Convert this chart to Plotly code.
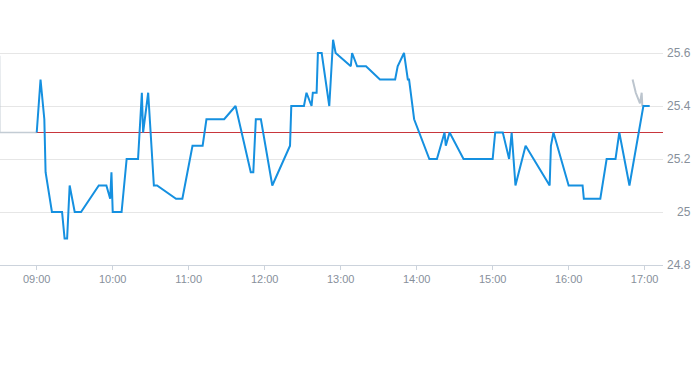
import plotly.graph_objects as go

DAY = "2024-01-02 "

# Main price series (blue)
times = ["09:00", "09:03", "09:06", "09:07", "09:12", "09:20", "09:22", "09:24", "09:26", "09:30",
         "09:35", "09:49", "09:55", "09:58", "09:59", "10:00", "10:07", "10:11", "10:20", "10:21",
         "10:23", "10:24", "10:28", "10:32:30", "10:35", "10:50", "10:55", "11:03", "11:11", "11:14",
         "11:28", "11:37", "11:49", "11:51", "11:53", "11:57", "12:06", "12:20", "12:21", "12:31",
         "12:33", "12:37", "12:38", "12:41", "12:42", "12:45", "12:51", "12:54", "12:56", "13:08",
         "13:09", "13:13", "13:20", "13:31", "13:43", "13:45", "13:50", "13:53", "13:54", "13:58",
         "14:02", "14:10", "14:16", "14:22", "14:23", "14:26", "14:37", "15:00", "15:02", "15:08",
         "15:13", "15:15", "15:18", "15:26", "15:45", "15:46", "15:48", "16:00", "16:11", "16:12",
         "16:25", "16:30", "16:37", "16:40", "16:48", "16:59", "17:04"]
values = [25.3, 25.5, 25.35, 25.15, 25.0, 25.0, 24.9, 24.9, 25.1, 25.0,
          25.0, 25.1, 25.1, 25.05, 25.15, 25.0, 25.0, 25.2, 25.2, 25.3,
          25.45, 25.3, 25.45, 25.1, 25.1, 25.05, 25.05, 25.25, 25.25, 25.35,
          25.35, 25.4, 25.15, 25.15, 25.35, 25.35, 25.1, 25.25, 25.4, 25.4,
          25.45, 25.4, 25.45, 25.45, 25.6, 25.6, 25.4, 25.65, 25.6, 25.55,
          25.6, 25.55, 25.55, 25.5, 25.5, 25.55, 25.6, 25.5, 25.5, 25.35,
          25.3, 25.2, 25.2, 25.3, 25.25, 25.3, 25.2, 25.2, 25.3, 25.3,
          25.2, 25.3, 25.1, 25.25, 25.1, 25.25, 25.3, 25.1, 25.1, 25.05,
          25.05, 25.2, 25.2, 25.3, 25.1, 25.4, 25.4]

# Extended-hours series (gray)
pre_times = ["08:30:40", "08:30:50", "09:00"]
pre_values = [25.59, 25.3, 25.3]
post_times = ["16:50:30", "16:53", "16:56:20", "16:57:40", "16:58:10"]
post_values = [25.5, 25.45, 25.41, 25.45, 25.4]

prev_close = 25.3

y_ticks = [24.8, 25.0, 25.2, 25.4, 25.6]
y_tick_text = ["24.8", "25", "25.2", "25.4", "25.6"]
x_range = ["08:31:00", "17:14:30"]

fig = go.Figure()
fig.add_hline(y=prev_close, line=dict(color="#c8363c", width=1), layer="below")
fig.add_trace(go.Scatter(x=[DAY + t for t in pre_times], y=pre_values, mode="lines",
                         line=dict(color="#c3ccd4", width=1.5), hoverinfo="skip", showlegend=False))
fig.add_trace(go.Scatter(x=[DAY + t for t in post_times], y=post_values, mode="lines",
                         line=dict(color="#bcc5ce", width=2), hoverinfo="skip", showlegend=False))
fig.add_trace(go.Scatter(x=[DAY + t for t in times], y=values, mode="lines",
                         line=dict(color="#1590e0", width=2), showlegend=False))

font = dict(family="Liberation Sans, Arial, sans-serif", size=11, color="#87909b")

for v, txt in zip(y_ticks, y_tick_text):
    fig.add_annotation(x=1, xref="paper", y=v, yref="y", text=txt, showarrow=False,
                       xanchor="right", xshift=30, font=dict(family=font["family"], size=12, color="#87909b"))

fig.update_layout(
    width=693, height=365,
    margin=dict(l=0, r=30, t=0, b=100),
    paper_bgcolor="white", plot_bgcolor="white",
    font=font,
    xaxis=dict(type="date", range=[DAY + x_range[0], DAY + x_range[1]],
               tickformat="%H:%M", dtick=3600000, tick0=DAY + "09:00",
               showgrid=False, showline=True, linecolor="#ccd3dc", linewidth=1,
               ticks="outside", ticklen=4, tickcolor="#ccd3dc", zeroline=False,
               tickfont=font),
    yaxis=dict(side="right", range=[24.8, 25.8], tickvals=y_ticks, ticktext=y_tick_text,
               showticklabels=False, showgrid=True, gridcolor="#e6e6e6", gridwidth=1,
               zeroline=False, showline=False, ticks=""),
)

fig.write_html("out.html")
